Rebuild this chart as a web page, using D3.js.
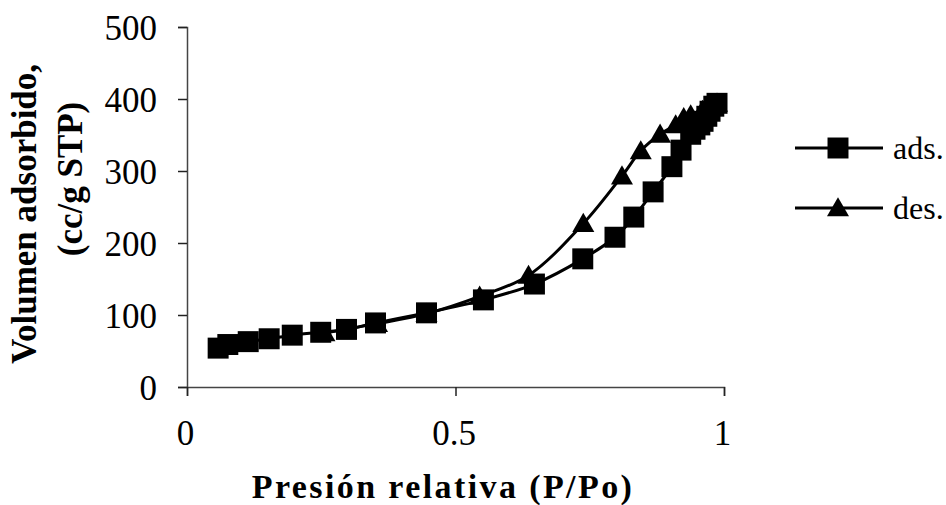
<!DOCTYPE html>
<html>
<head>
<meta charset="utf-8">
<script src="https://cdn.jsdelivr.net/npm/d3@7"></script>
<style>
  body { margin: 0; background: #fff; }
  svg { display: block; }
  text { font-family: "Times New Roman", "Liberation Serif", Tinos, serif; fill: #000; }
</style>
</head>
<body>
<div id="wrapper"></div>
<script>
// adsorption branch
const adsP = [0.058, 0.076, 0.114, 0.153, 0.196, 0.249, 0.297, 0.351, 0.446, 0.552, 0.647, 0.737, 0.797, 0.832, 0.868, 0.903, 0.92, 0.938, 0.946, 0.955, 0.961, 0.968, 0.974, 0.981, 0.987];
const adsV = [54, 59, 63, 67, 72, 76, 80, 89, 103, 121, 143, 178, 208, 236, 271, 306, 329, 351, 358, 364, 369, 376, 383, 390, 394];
// desorption branch
const desP = [0.987, 0.975, 0.96, 0.938, 0.925, 0.91, 0.881, 0.845, 0.81, 0.738, 0.636, 0.545, 0.446, 0.354, 0.256];
const desV = [394, 388, 384, 378, 374, 364, 351, 328, 293, 227, 155, 126, 102, 88, 75];

const xTicks = [0, 0.5, 1];
const xTickLabels = ["0", "0.5", "1"];
const yTicks = [0, 100, 200, 300, 400, 500];
const seriesNames = ["ads.", "des."];

function drawChart() {
  const dimensions = {
    width: 946,
    height: 505,
    margin: { top: 27, right: 222, bottom: 118, left: 187 },
  };
  dimensions.boundedWidth = dimensions.width - dimensions.margin.left - dimensions.margin.right;
  dimensions.boundedHeight = dimensions.height - dimensions.margin.top - dimensions.margin.bottom;

  const svg = d3.select("#wrapper").append("svg")
    .attr("width", dimensions.width)
    .attr("height", dimensions.height);

  const bounds = svg.append("g")
    .attr("transform", `translate(${dimensions.margin.left},${dimensions.margin.top})`);

  const xScale = d3.scaleLinear().domain([0, 1]).range([0, 537]);
  const yScale = d3.scaleLinear().domain([0, 500]).range([dimensions.boundedHeight, 0]);

  // axes
  const yAxisGenerator = d3.axisLeft(yScale).tickValues(yTicks).tickSize(9).tickPadding(21);
  const xAxisGenerator = d3.axisBottom(xScale).tickValues(xTicks)
    .tickFormat((d, i) => xTickLabels[i]).tickSize(9).tickPadding(24);

  const yAxis = bounds.append("g").call(yAxisGenerator);
  const xAxis = bounds.append("g").call(xAxisGenerator)
    .attr("transform", `translate(0,${dimensions.boundedHeight})`);

  [xAxis, yAxis].forEach(ax => {
    ax.attr("font-family", null).attr("font-size", null);
    ax.select(".domain").attr("stroke", "#444").attr("stroke-width", 1.5);
    ax.selectAll(".tick line").attr("stroke", "#222").attr("stroke-width", 1.5);
    ax.selectAll(".tick text")
      .style("font-size", "35px")
      .attr("fill", "#000");
  });
  yAxis.selectAll(".tick text").attr("dy", "0.35em");
  xAxis.selectAll(".tick text").attr("dx", "-2px");

  // series
  const ads = adsP.map((p, i) => [p, adsV[i]]);
  const des = desP.map((p, i) => [p, desV[i]]);

  const lineGenerator = d3.line()
    .x(d => xScale(d[0]))
    .y(d => yScale(d[1]))
    .curve(d3.curveCatmullRom.alpha(0.5));

  bounds.append("path")
    .attr("d", lineGenerator(des))
    .attr("fill", "none")
    .attr("stroke", "#000")
    .attr("stroke-width", 3);

  bounds.append("path")
    .attr("d", lineGenerator(ads))
    .attr("fill", "none")
    .attr("stroke", "#000")
    .attr("stroke-width", 3);

  const triangle = d3.symbol().type(d3.symbolTriangle).size(210);
  const square = d3.symbol().type(d3.symbolSquare).size(440);

  bounds.append("g").selectAll("path")
    .data(des)
    .join("path")
    .attr("d", triangle)
    .attr("transform", d => `translate(${xScale(d[0])},${yScale(d[1]) + 2})`)
    .attr("fill", "#000");

  bounds.append("g").selectAll("path")
    .data(ads)
    .join("path")
    .attr("d", square)
    .attr("transform", d => `translate(${xScale(d[0])},${yScale(d[1])})`)
    .attr("fill", "#000");

  // axis titles
  svg.append("text")
    .attr("transform", "translate(36,214) rotate(-90)")
    .attr("text-anchor", "middle")
    .style("font-size", "35px")
    .style("font-weight", "bold")
    .text("Volumen adsorbido,");

  svg.append("text")
    .attr("transform", "translate(82,179) rotate(-90)")
    .attr("text-anchor", "middle")
    .style("font-size", "35px")
    .style("font-weight", "bold")
    .text("(cc/g STP)");

  svg.append("text")
    .attr("x", 443)
    .attr("y", 498)
    .attr("text-anchor", "middle")
    .style("font-size", "34px")
    .style("font-weight", "bold")
    .style("letter-spacing", "2.4px")
    .text("Presión relativa (P/Po)");

  // legend
  const legend = svg.append("g");
  const legendY = [148, 208];
  seriesNames.forEach((name, i) => {
    const g = legend.append("g").attr("transform", `translate(0,${legendY[i]})`);
    g.append("line")
      .attr("x1", 795).attr("x2", 883)
      .attr("stroke", "#000").attr("stroke-width", 3);
    g.append("path")
      .attr("d", i === 0 ? square : triangle)
      .attr("transform", `translate(838,${i === 0 ? 0 : 2})`)
      .attr("fill", "#000");
    g.append("text")
      .attr("x", 893)
      .attr("y", 11)
      .style("font-size", "32px")
      .text(name);
  });
}

drawChart();
</script>
</body>
</html>
